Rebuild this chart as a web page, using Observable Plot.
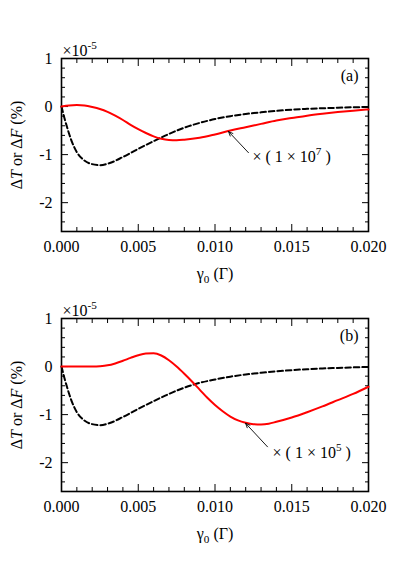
<!DOCTYPE html>
<html><head><meta charset="utf-8">
<script src="https://cdn.jsdelivr.net/npm/d3@7"></script>
<script src="https://cdn.jsdelivr.net/npm/@observablehq/plot@0.6"></script>
<style>body{margin:0;background:#fff} svg{display:block} svg, svg text{font-family:"Liberation Serif","Times New Roman",serif !important;}</style>
</head><body><div id="chart"></div>
<script>
// ---- ticks ----
const xTicks = [0, 0.005, 0.01, 0.015, 0.02];
const xMinorTicks = [0.001,0.002,0.003,0.004,0.006,0.007,0.008,0.009,0.011,0.012,0.013,0.014,0.016,0.017,0.018,0.019];
const yTicks = [-2, -1, 0, 1];
const yMinorTicks = [-2.6,-2.4,-2.2,-1.8,-1.6,-1.4,-1.2,-0.8,-0.6,-0.4,-0.2,0.2,0.4,0.6,0.8];

// ---- black dashed curve (units of 1e-5 %) ----
const dashX = [0,0.0002,0.0004,0.0007,0.001,0.0014,0.0019,0.0025,0.0031,0.004,0.005,0.006,0.007,0.008,0.009,0.010,0.011,0.012,0.013,0.014,0.015,0.016,0.017,0.018,0.019,0.020];
const dashA = [0,-0.25,-0.47,-0.75,-0.95,-1.10,-1.19,-1.22,-1.18,-1.05,-0.88,-0.72,-0.57,-0.44,-0.34,-0.26,-0.20,-0.155,-0.12,-0.09,-0.065,-0.048,-0.035,-0.025,-0.015,-0.008];
const dashB = [0,-0.25,-0.47,-0.75,-0.95,-1.10,-1.19,-1.22,-1.18,-1.05,-0.88,-0.72,-0.57,-0.44,-0.34,-0.27,-0.21,-0.165,-0.13,-0.10,-0.075,-0.055,-0.04,-0.028,-0.017,-0.008];

// ---- red curve, panel (a), scaled x 1e7 ----
const redAX = [0,0.0005,0.001,0.0015,0.002,0.0025,0.003,0.0035,0.004,0.0045,0.005,0.0055,0.006,0.0065,0.007,0.0075,0.008,0.009,0.010,0.011,0.012,0.013,0.014,0.015,0.016,0.017,0.018,0.019,0.020];
const redA = [0,0.02,0.03,0.02,-0.01,-0.05,-0.11,-0.19,-0.28,-0.38,-0.47,-0.55,-0.62,-0.67,-0.695,-0.70,-0.69,-0.65,-0.58,-0.50,-0.43,-0.36,-0.29,-0.24,-0.19,-0.15,-0.115,-0.085,-0.06];

// ---- red curve, panel (b), scaled x 1e5 ----
const redBX = [0,0.001,0.002,0.0025,0.003,0.0035,0.004,0.0045,0.005,0.0055,0.006,0.0065,0.007,0.0075,0.008,0.0085,0.009,0.0095,0.010,0.0105,0.011,0.0115,0.012,0.0125,0.013,0.0135,0.014,0.015,0.016,0.017,0.018,0.019,0.020];
const redB = [0,0,0.002,0.008,0.025,0.065,0.12,0.18,0.235,0.27,0.275,0.23,0.13,0,-0.15,-0.31,-0.48,-0.65,-0.80,-0.93,-1.04,-1.12,-1.17,-1.20,-1.205,-1.19,-1.15,-1.06,-0.95,-0.83,-0.70,-0.57,-0.42];

// ---- annotations ----
const tags = ["(a)", "(b)"];
const factorLabels = ["× ( 1 × 10^{7} )", "× ( 1 × 10^{5} )"];
const arrowA = {x1: 0.01218, y1: -0.96, x2: 0.01088, y2: -0.52};
const arrowB = {x1: 0.01342, y1: -1.67, x2: 0.01199, y2: -1.18};
const factorPosA = {x: 0.01244, y: -1.04};
const factorPosB = {x: 0.01375, y: -1.80};
const yLabel = "Δ*T* or Δ*F* (%)";
const xLabel = "γ_{0} (Γ)";
const expLabel = "×10^{-5}";

const FS = 16;
const FONT = "'Liberation Serif', 'Times New Roman', serif";
function zip(xs, ys){ return xs.map((x,i)=>({x, y: ys[i]})); }

function rich(el, s, fs) {
  el.textContent = "";
  const re = /\^\{([^}]*)\}|_\{([^}]*)\}|\*([^*]+)\*|([^^_*]+)/g;
  let m, shift = 0;
  const ns = "http://www.w3.org/2000/svg";
  while ((m = re.exec(s))) {
    const t = document.createElementNS(ns, "tspan");
    let target = 0;
    if (m[1] !== undefined) { t.textContent = m[1]; t.setAttribute("font-size", (fs*0.7)+"px"); target = -0.42*fs; }
    else if (m[2] !== undefined) { t.textContent = m[2]; t.setAttribute("font-size", (fs*0.7)+"px"); target = 0.25*fs; }
    else if (m[3] !== undefined) { t.textContent = m[3]; t.setAttribute("font-style", "italic"); }
    else { t.textContent = m[4]; }
    if (target !== shift) { t.setAttribute("dy", (target - shift) + "px"); shift = target; }
    el.appendChild(t);
  }
}

function panel({dash, redX, red, tag, factor, arrow, fpos, height, mt, mb}) {
  const common = {strokeWidth: 1};
  const svg = Plot.plot({
    width: 409, height,
    marginLeft: 61, marginRight: 41, marginTop: mt, marginBottom: mb,
    style: {fontFamily: FONT, fontSize: FS + "px", background: "white", color: "black"},
    x: {domain: [0, 0.02], axis: null},
    y: {domain: [-2.6, 1], axis: null},
    marks: [
      Plot.axisX({anchor: "bottom", ticks: xMinorTicks, tickSize: -4, text: null, label: null, ...common}),
      Plot.axisX({anchor: "top", ticks: xMinorTicks, tickSize: -4, text: null, label: null, ...common}),
      Plot.axisX({anchor: "bottom", ticks: xTicks, tickSize: -7, text: null, label: null, ...common}),
      Plot.axisX({anchor: "top", ticks: xTicks, tickSize: -7, text: null, label: null, ...common}),
      Plot.axisX({anchor: "bottom", ticks: xTicks, tickSize: 0, tickPadding: 9, tickFormat: d3.format(".3f"), label: null, fontSize: FS, fontFamily: FONT}),
      Plot.axisY({anchor: "left", ticks: yMinorTicks, tickSize: -4, text: null, label: null, ...common}),
      Plot.axisY({anchor: "right", ticks: yMinorTicks, tickSize: -4, text: null, label: null, ...common}),
      Plot.axisY({anchor: "left", ticks: yTicks, tickSize: -7, text: null, label: null, ...common}),
      Plot.axisY({anchor: "right", ticks: yTicks, tickSize: -7, text: null, label: null, ...common}),
      Plot.axisY({anchor: "left", ticks: yTicks, tickSize: 0, tickPadding: 9, tickFormat: d => String(d), label: null, fontSize: FS, fontFamily: FONT}),
      Plot.frame({stroke: "black", strokeWidth: 1.6}),
      Plot.line(zip(dashX, dash), {x: "x", y: "y", stroke: "black", strokeWidth: 2, strokeDasharray: "5.5,3", curve: "monotone-x"}),
      Plot.line(zip(redX, red), {x: "x", y: "y", stroke: "#f00", strokeWidth: 2, curve: "monotone-x"}),
      Plot.arrow([arrow], {x1: "x1", y1: "y1", x2: "x2", y2: "y2", stroke: "black", strokeWidth: 0.9, headLength: 8, headAngle: 45}),
      Plot.text([factor], {x: fpos.x, y: fpos.y, text: d => d, textAnchor: "start", fontSize: FS, fontFamily: FONT}),
      Plot.text([tag], {frameAnchor: "top-right", dx: -10, dy: 11, lineAnchor: "top", textAnchor: "end", text: d => d, fontSize: FS, fontFamily: FONT}),
      Plot.text([expLabel], {frameAnchor: "top-left", dx: 1, dy: -3, lineAnchor: "bottom", textAnchor: "start", text: d => d, fontSize: FS, fontFamily: FONT}),
      Plot.text([yLabel], {frameAnchor: "left", dx: -45, rotate: -90, textAnchor: "middle", text: d => d, fontSize: FS, fontFamily: FONT}),
      Plot.text([xLabel], {frameAnchor: "bottom", dy: 47, textAnchor: "middle", text: d => d, fontSize: FS, fontFamily: FONT})
    ]
  });
  d3.select(svg).selectAll("text").each(function() {
    const s = this.textContent;
    if (/[\^_*]/.test(s)) rich(this, s, FS);
  });
  return svg;
}

const root = document.getElementById("chart");
root.appendChild(panel({dash: dashA, redX: redAX, red: redA, tag: tags[0], factor: factorLabels[0], arrow: arrowA, fpos: factorPosA, height: 290, mt: 58, mb: 59}));
root.appendChild(panel({dash: dashB, redX: redBX, red: redB, tag: tags[1], factor: factorLabels[1], arrow: arrowB, fpos: factorPosB, height: 288, mt: 28, mb: 87}));
</script>
</body></html>
